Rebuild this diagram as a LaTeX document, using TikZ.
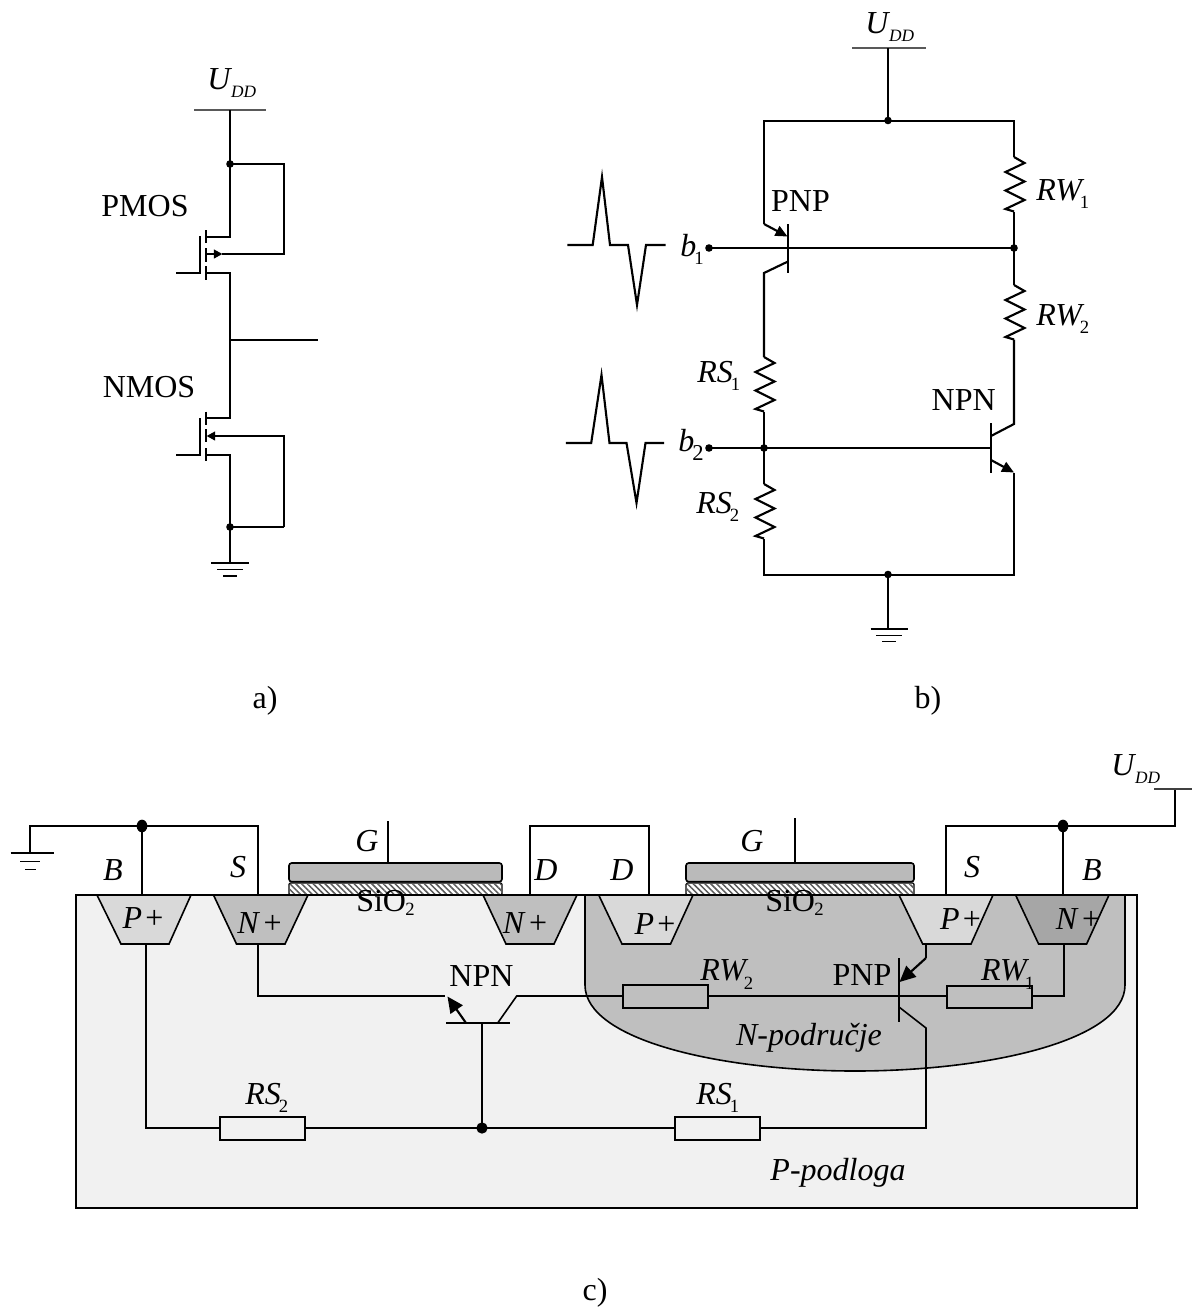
\documentclass[tikz,border=0pt]{standalone}
\usepackage{fontspec}
\setmainfont{Liberation Serif}
\usetikzlibrary{arrows.meta,patterns.meta,shapes.geometric}
\newcommand{\lowsub}[2][-0.12em]{\kern-0.02em\raisebox{#1}{\fontsize{14}{14}\selectfont #2}}
\newcommand{\udd}{{\itshape U}\kern0.02em\raisebox{-0.25em}{\fontsize{13}{14}\selectfont\itshape DD}}
\newcommand{\rsub}[2]{{\itshape #1}\kern-0.06em\raisebox{-0.28em}{\fontsize{14}{14}\selectfont #2}}
\definecolor{subst}{gray}{0.945}
\definecolor{nreg}{gray}{0.75}
\definecolor{pplus}{gray}{0.85}
\definecolor{nplus}{gray}{0.75}
\definecolor{nplusb}{gray}{0.65}
\definecolor{polyg}{gray}{0.73}
\tikzset{
  wire/.style={line width=1.6pt,line join=miter},
  cwire/.style={line width=1.2pt,line join=miter},
  thinbar/.style={line width=0.9pt,black!65},
  groundbar/.style={line width=1.3pt},
  dotn/.style={circle,fill=black,inner sep=0pt,minimum size=5.7pt},
  bigdot/.style={ellipse,fill=black,inner sep=0pt,minimum width=8pt,minimum height=9.5pt},
  lbl/.style={font=\fontsize{24}{26}\selectfont,inner sep=0pt,anchor=base},
  lblw/.style={font=\fontsize{24}{26}\selectfont,inner sep=0pt,anchor=base west},
  ilbl/.style={font=\fontsize{24}{26}\selectfont\itshape,inner sep=0pt,anchor=base},
  resbox/.style={draw,line width=1.5pt,rectangle,inner sep=0pt,minimum width=64pt,minimum height=17pt},
  bigtip/.style={-{Triangle[length=12pt,width=11pt]}},
  midtip/.style={-{Triangle[length=9pt,width=8pt]}},
  smalltip/.style={-{Triangle[length=6.5pt,width=6.5pt]}},
  well/.style={draw,cwire},
  hatchfill/.style={pattern={Lines[angle=-45,distance=3.1pt,line width=1.1pt]},pattern color=black!65},
  rzig/.pic={
    \coordinate (-top) at (0,0);
    \coordinate (-bot) at (0,54.5);
    \draw[wire] (-top) -- (10.5,6) -- (-8.5,15) -- (10.5,24.5) -- (-8.5,33.5) -- (10.5,43) -- (-8.5,52) -- (-bot);
  }
}
\begin{document}
\begin{tikzpicture}[x=0.75pt,y=-0.75pt]
\useasboundingbox (0,0) rectangle (1192,1307);

%%%% a) CMOS
\coordinate (avl) at (194,110); \coordinate (avr) at (266,110); \coordinate (av) at (230,110);
\draw[thinbar] (avl) -- (avr);
\node[dotn] (atop) at (230,164) {};
\node[dotn] (abot) at (230,527) {};
\coordinate (atr) at (284,164); \coordinate (amr) at (284,254);
\coordinate (pdr) at (230,237); \coordinate (pdl) at (206,237);
\coordinate (psr) at (230,273); \coordinate (psl) at (206,273);
\coordinate (pb) at (206,254);
\coordinate (ndr) at (230,418); \coordinate (ndl) at (206,418);
\coordinate (nsr) at (230,455); \coordinate (nsl) at (206,455);
\coordinate (nb) at (206.5,436); \coordinate (nbr) at (284,436); \coordinate (nbb) at (284,527);
\coordinate (agnd) at (230,563);
\coordinate (aoutl) at (230,340); \coordinate (aoutr) at (318,340);
\draw[wire] (av) -- (atop.center);
\draw[wire] (atop.center) -- (pdr) -- (pdl);
\draw[wire] (atop.center) -- (atr) -- (amr) -- (222,254);
\draw[wire,smalltip] (pb) -- (222.5,254);
\draw[wire] (206,230) -- (206,243);
\draw[wire] (206,248) -- (206,262);
\draw[wire] (206,266) -- (206,279.5);
\draw[wire] (200,236) -- (200,273.8);
\draw[wire] (176,273) -- (200,273);
\draw[wire] (psl) -- (psr) -- (ndr) -- (ndl);
\draw[wire] (aoutl) -- (aoutr);
\draw[wire] (206,411.5) -- (206,424.5);
\draw[wire] (206,429) -- (206,442);
\draw[wire] (206,448) -- (206,461);
\draw[wire] (200,418) -- (200,455.8);
\draw[wire] (176,455) -- (200,455);
\draw[wire] (nbb) -- (nbr) -- (217,436);
\draw[wire,smalltip] (nbr) -- (nb);
\draw[wire] (nbb) -- (abot.center);
\draw[wire] (nsl) -- (nsr) -- (agnd);
\draw[wire] (211,563) -- (249,563);
\draw[groundbar] (217,569.5) -- (243,569.5);
\draw[groundbar] (223,575.7) -- (237,575.7);
\node[lblw] (audd) at (207,89) {\udd};
\node[lbl] (apmos) at (145,216.5) {PMOS};
\node[lbl] (anmos) at (149,397) {NMOS};
\node[lbl] (alab) at (265,708) {a)};

%%%% b) equivalent circuit
\draw[thinbar] (852,48) -- (926,48);
\node[dotn] (btop) at (888,120.5) {};
\node[dotn] (bbot) at (888,574.5) {};
\node[dotn] (bb1) at (709,248) {};
\node[dotn] (bb2) at (709,448) {};
\node[dotn] (bj1) at (1014,248) {};
\node[dotn] (bj2) at (764,448) {};
\coordinate (bv) at (888,48);
\coordinate (btl) at (764,121); \coordinate (btr) at (1014,121);
\coordinate (bbl) at (764,575); \coordinate (bbr) at (1014,575);
\coordinate (pe) at (764,224); \coordinate (petip) at (787.5,236.5);
\coordinate (pc1) at (788,261.5); \coordinate (pc2) at (764,273);
\coordinate (nc1) at (991,436); \coordinate (nc2) at (1014,424);
\coordinate (ne1) at (991,460); \coordinate (ne2) at (1014,472.5);
\coordinate (nbar) at (991,448);
\pic (rw1) at (1014,157) {rzig};
\pic (rw2) at (1014,285) {rzig};
\pic (rs1) at (764,357) {rzig};
\pic (rs2) at (764,484) {rzig};
\draw[wire] (bv) -- (btop.center);
\draw[wire] (pe) -- (btl) -- (btr) -- (rw1-top);
\draw[wire,midtip] (pe) -- (petip);
\draw[wire] (788,224) -- (788,273);
\draw[wire] (bb1.center) -- (bj1.center);
\draw[wire] (pc1) -- (pc2) -- (rs1-top);
\draw[wire] (rw1-bot) -- (bj1.center) -- (rw2-top);
\draw[wire] (rw2-bot) -- (nc2) -- (nc1);
\draw[wire] (991,423) -- (991,473);
\draw[wire] (bb2.center) -- (nbar);
\draw[wire,midtip] (ne1) -- (ne2);
\draw[wire] (ne2) -- (bbr) -- (bbl) -- (rs2-bot);
\draw[wire] (rs1-bot) -- (bj2.center) -- (rs2-top);
\draw[wire] (bbot.center) -- (888,629);
\draw[wire] (870.5,629) -- (908,629);
\draw[groundbar] (876,635.5) -- (902,635.5);
\draw[groundbar] (882,641.5) -- (896,641.5);
% pulses
\draw[wire] (567.3,245) -- (592.7,245) -- (602,177) -- (610,245) -- (628,245) -- (637,305) -- (646,245) -- (665.5,245);
\draw[wire] (565.8,443) -- (591.2,443) -- (601.5,375) -- (609.5,443) -- (626.5,443) -- (636.5,503) -- (645.5,443) -- (664,443);
\node[lblw] (budd) at (865,33) {\udd};
\node[lbl] (bpnp) at (800.5,211.7) {PNP};
\node[lbl] (bnpn) at (963.7,410.7) {NPN};
\node[lblw] (lb1) at (680,256) {\rsub{b}{1}};
\node[lblw] (lb2) at (678,451) {{\itshape b}\kern-0.06em\raisebox{-0.3em}{\fontsize{17}{17}\selectfont 2}};
\node[lblw] (lrw1) at (1036,200) {\rsub{RW}{1}};
\node[lblw] (lrw2) at (1036,325) {\rsub{RW}{2}};
\node[lblw] (lrs1) at (697,382) {\rsub{RS}{1}};
\node[lblw] (lrs2) at (696,513) {\rsub{RS}{2}};
\node[lbl] (blab) at (928,708) {b)};

%%%% c) cross-section
\draw[cwire,fill=subst] (76,895) rectangle (1137,1208);
\draw[cwire,fill=nreg] (585,895) -- (585,985) .. controls (585,1040) and (720,1071) .. (855,1071) .. controls (990,1071) and (1125,1040) .. (1125,985) -- (1125,895);
\draw[well,fill=pplus] (97,895) -- (191,895) -- (169,944) -- (121,944) -- cycle;
\draw[well,fill=nplus] (213.5,895) -- (308,895) -- (285,944) -- (236.5,944) -- cycle;
\draw[well,fill=nplus] (483,895) -- (577,895) -- (554,944) -- (506,944) -- cycle;
\draw[well,fill=pplus] (598.7,895) -- (693,895) -- (670.5,944) -- (622,944) -- cycle;
\draw[well,fill=pplus] (899,895) -- (993,895) -- (971,944) -- (922.7,944) -- cycle;
\draw[well,fill=nplusb] (1015.6,895) -- (1109,895) -- (1086.6,944) -- (1038.6,944) -- cycle;
% gates
\draw[cwire,fill=polyg,rounded corners=2pt] (289,863) rectangle (502,881.7);
\draw[cwire,fill=polyg,rounded corners=2pt] (686,863) rectangle (914,881.7);
\draw[line width=0.9pt,fill=white,rounded corners=1pt] (289,883) rectangle (502,895);
\draw[line width=0.9pt,fill=white,rounded corners=1pt] (686,883) rectangle (914,895);
\fill[hatchfill] (289.5,884) rectangle (501.5,894.5);
\fill[hatchfill] (686.5,884) rectangle (913.5,894.5);
\draw[line width=1.7pt] (76,895) -- (1137,895);

\node[bigdot] (cdl) at (142,826) {};
\node[bigdot] (cdr) at (1063,826) {};
\node[dotn,minimum size=8.5pt] (cdb) at (482,1128) {};
\node[resbox] (rs2box) at (262.5,1128.5) {};
\node[resbox] (rs1box) at (717.5,1128.5) {};
\node[resbox] (rw2box) at (665.7,996.5) {};
\node[resbox] (rw1box) at (989.5,997) {};
\coordinate (gl) at (30,853); \coordinate (gtl) at (30,826);
\coordinate (str) at (258,826); \coordinate (stb) at (258,895);
\coordinate (bt) at (142,895);
\coordinate (dlb) at (530,895); \coordinate (dlt) at (530,826); \coordinate (drt) at (649,826); \coordinate (drb) at (649,895);
\coordinate (sb) at (946,895); \coordinate (st) at (946,826); \coordinate (vt) at (1175,826); \coordinate (vb) at (1175,789);
\coordinate (brb) at (1063,895);
\coordinate (g1t) at (388,821); \coordinate (g1b) at (388,863);
\coordinate (g2t) at (795,818); \coordinate (g2b) at (795,862);
\coordinate (pl1) at (146,944); \coordinate (pl2) at (146,1128);
\coordinate (nl1) at (258,944); \coordinate (nl2) at (258,996);
\coordinate (eb) at (466,1023); \coordinate (etip) at (447.5,996.5); \coordinate (el) at (445,996);
\coordinate (cb) at (497.7,1023); \coordinate (ct) at (516.7,996);
\coordinate (bs) at (482,1023);
\coordinate (pe1) at (926,944); \coordinate (pe2) at (926,958); \coordinate (petp) at (899.5,982);
\coordinate (pcb) at (899,1007); \coordinate (pcm) at (926,1028); \coordinate (pcd) at (926,1128);
\coordinate (pbs) at (899,996);
\coordinate (nr1) at (1064,944); \coordinate (nr2) at (1064,996);

\draw[cwire] (gl) -- (gtl) -- (cdl.center) -- (str) -- (stb);
\draw[cwire] (cdl.center) -- (bt);
\draw[cwire] (dlb) -- (dlt) -- (drt) -- (drb);
\draw[cwire] (sb) -- (st) -- (cdr.center) -- (vt) -- (vb);
\draw[cwire] (cdr.center) -- (brb);
\draw[cwire] (g1t) -- (g1b);
\draw[cwire] (g2t) -- (g2b);
\draw[cwire,black!75] (1154,789) -- (1192,789);
\draw[groundbar] (10.7,853) -- (53.6,853);
\draw[cwire] (20,861.5) -- (40,861.5);
\draw[cwire] (25,869.5) -- (36,869.5);
\draw[cwire] (pl1) -- (pl2) -- (rs2box.west |- pl2);
\draw[cwire] (rs2box.east |- cdb) -- (cdb.center) -- (rs1box.west |- cdb);
\draw[cwire] (rs1box.east |- pcd) -- (pcd) -- (pcm) -- (pcb);
\draw[cwire] (nl1) -- (nl2) -- (el);
\draw[wire,bigtip] (eb) -- (etip);
\draw[cwire] (446,1023) -- (510,1023);
\draw[cwire] (cb) -- (ct) -- (rw2box.west |- ct);
\draw[cwire] (bs) -- (cdb.center);
\draw[cwire] (rw2box.east |- pbs) -- (pbs) -- (rw1box.west |- pbs);
\draw[cwire] (899,958) -- (899,1022);
\draw[cwire] (pe1) -- (pe2);
\draw[wire,bigtip] (pe2) -- (petp);
\draw[cwire] (rw1box.east |- nr2) -- (nr2) -- (nr1);

\node[lblw] (cudd) at (1111,775) {\udd};
\node[ilbl] (tb1) at (113,880) {B};
\node[ilbl] (ts1) at (238,877) {S};
\node[ilbl] (tg1) at (367,851) {G};
\node[ilbl] (td1) at (546,880) {D};
\node[ilbl] (td2) at (622,880) {D};
\node[ilbl] (tg2) at (752,851) {G};
\node[ilbl] (ts2) at (972,877) {S};
\node[ilbl] (tb2) at (1092,880) {B};
\node[lbl] (wp1) at (143,928) {\textit{P}\kern2.5pt+};
\node[lbl] (wn1) at (259.5,933) {\textit{N}\kern2.5pt+};
\node[lbl] (wn2) at (525,933) {\textit{N}\kern2.5pt+};
\node[lbl] (wp2) at (655,934) {\textit{P}\kern2.5pt+};
\node[lbl] (wp3) at (960.5,929) {\textit{P}\kern2.5pt+};
\node[lbl] (wn3) at (1078,929) {\textit{N}\kern2.5pt+};
\node[lbl] (ox1) at (385.5,911.7) {SiO\lowsub{2}};
\node[lbl] (ox2) at (794.5,911.7) {SiO\lowsub{2}};
\node[lbl] (cnpn) at (481.5,986.7) {NPN};
\node[lbl] (cpnp) at (862,985) {PNP};
\node[lblw] (crw2) at (700,980.7) {\rsub{RW}{2}};
\node[lblw] (crw1) at (980.8,980.7) {\rsub{RW}{1}};
\node[lblw] (crs2) at (245,1104) {\rsub{RS}{2}};
\node[lblw] (crs1) at (696,1104) {\rsub{RS}{1}};
\node[ilbl] (cnreg) at (809,1045) {N-područje};
\node[ilbl] (cpreg) at (838,1180) {P-podloga};
\node[lbl] (clab) at (595,1300) {c)};
\end{tikzpicture}
\end{document}
